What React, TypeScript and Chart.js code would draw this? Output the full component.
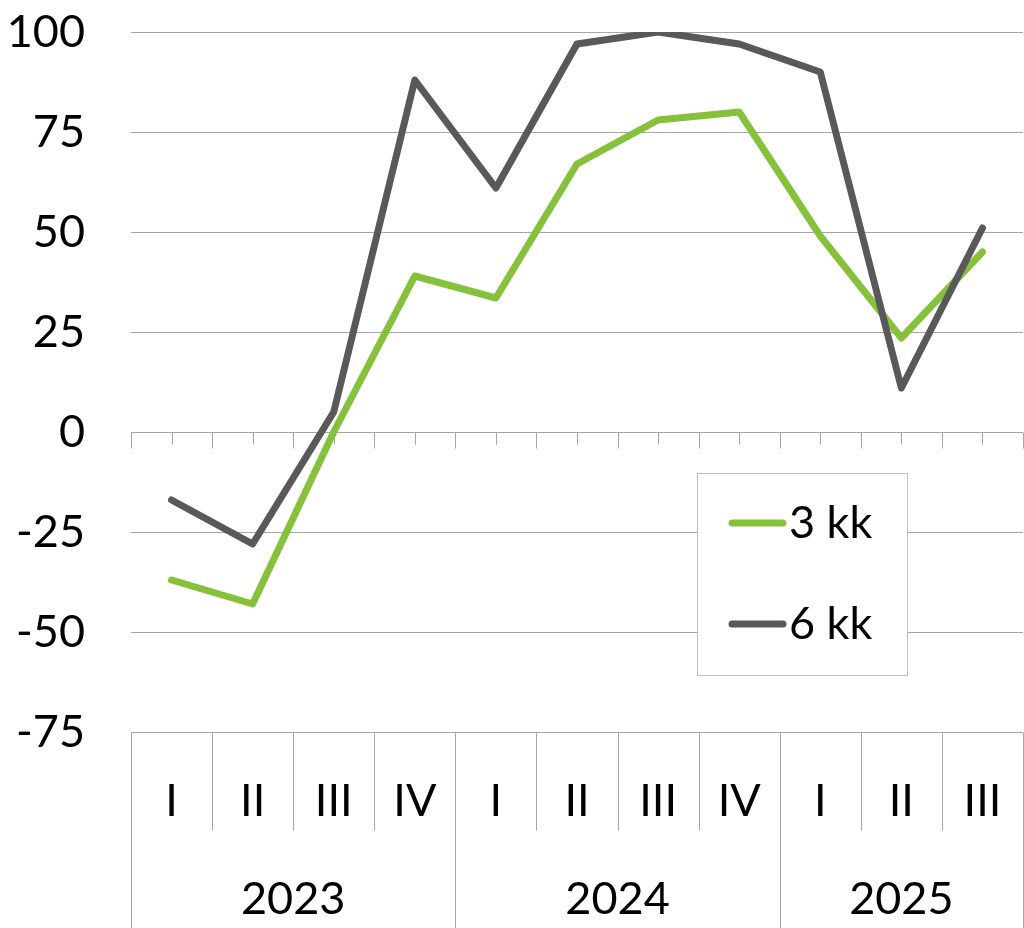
import React, { useEffect, useRef } from 'react';
import { Chart, registerables } from 'chart.js';

Chart.register(...registerables);

const quarterLabels = ['I', 'II', 'III', 'IV', 'I', 'II', 'III', 'IV', 'I', 'II', 'III'];
const yearLabels = ['2023', '2024', '2025'];
const quartersPerYear = [4, 4, 3];
const series3kk = [-37, -43, 0, 39, 33.5, 67, 78, 80, 49, 23.5, 45];
const series6kk = [-17, -28, 5, 88, 61, 97, 100, 97, 90, 11, 51];
const seriesNames = ['3 kk', '6 kk'];
const yMin = -75;
const yMax = 100;
const yStep = 25;

const GREEN = '#86c13b';
const DARK = '#595959';
const GRID = '#a6a6a6';
const FONT = 'Lato';
const FONT_SIZE = 45;

const tablePlugin = {
  id: 'tableAxis',
  beforeDatasetsDraw(chart: any) {
    const { ctx, chartArea } = chart;
    const y = chart.scales.y;
    const x = chart.scales.x;
    const n = quarterLabels.length;
    const w = (chartArea.right - chartArea.left) / n;
    const y0 = Math.round(y.getPixelForValue(0)) + 0.5;
    ctx.save();
    ctx.strokeStyle = GRID;
    ctx.lineWidth = 1;
    ctx.beginPath();
    for (let i = 0; i <= n; i++) {
      const bx = Math.round(chartArea.left + i * w) + 0.5;
      ctx.moveTo(bx, y0);
      ctx.lineTo(bx, y0 + 16);
    }
    for (let i = 0; i < n; i++) {
      const cx = Math.round(x.getPixelForValue(i)) + 0.5;
      ctx.moveTo(cx, y0);
      ctx.lineTo(cx, y0 + 12);
    }
    ctx.stroke();
    ctx.restore();
  },
  afterDraw(chart: any) {
    const { ctx, chartArea, height } = chart;
    const x = chart.scales.x;
    const n = quarterLabels.length;
    const w = (chartArea.right - chartArea.left) / n;
    const top = Math.round(chartArea.bottom) + 0.5;
    const yearStarts: number[] = [0];
    quartersPerYear.forEach((q, i) => yearStarts.push(yearStarts[i] + q));

    ctx.save();
    ctx.strokeStyle = GRID;
    ctx.lineWidth = 1;
    ctx.beginPath();
    ctx.moveTo(chartArea.left, top);
    ctx.lineTo(chartArea.right, top);
    for (let i = 0; i <= n; i++) {
      const bx = Math.round(chartArea.left + i * w) + 0.5;
      const full = yearStarts.indexOf(i) >= 0;
      ctx.moveTo(bx, top);
      ctx.lineTo(bx, full ? height : top + 98);
    }
    ctx.stroke();

    ctx.fillStyle = '#000';
    ctx.font = `${FONT_SIZE}px ${FONT}`;
    ctx.textAlign = 'center';
    ctx.textBaseline = 'alphabetic';
    for (let i = 0; i < n; i++) {
      ctx.fillText(quarterLabels[i], x.getPixelForValue(i), top + 83);
    }
    for (let k = 0; k < yearLabels.length; k++) {
      const a = chartArea.left + yearStarts[k] * w;
      const b = chartArea.left + yearStarts[k + 1] * w;
      ctx.fillText(yearLabels[k], (a + b) / 2, top + 181);
    }

    // legend
    const lx = 697.5, ly = 473.5, lw = 210, lh = 202;
    ctx.fillStyle = '#fff';
    ctx.fillRect(lx, ly, lw, lh);
    ctx.strokeStyle = '#bfbfbf';
    ctx.strokeRect(lx, ly, lw, lh);
    const rows = [523, 624];
    chart.data.datasets.forEach((ds: any, i: number) => {
      const ry = rows[i];
      ctx.strokeStyle = ds.borderColor;
      ctx.lineWidth = 7;
      ctx.lineCap = 'round';
      ctx.beginPath();
      ctx.moveTo(732, ry);
      ctx.lineTo(783, ry);
      ctx.stroke();
      ctx.fillStyle = '#000';
      ctx.textAlign = 'left';
      ctx.fillText(ds.label, 789, ry + 15);
    });
    ctx.restore();
  },
};

export default function App() {
  const ref = useRef<HTMLCanvasElement>(null);
  useEffect(() => {
    if (!ref.current) return;
    const chart = new Chart(ref.current, {
      type: 'line',
      data: {
        labels: quarterLabels,
        datasets: [
          {
            label: seriesNames[0],
            data: series3kk,
            borderColor: GREEN,
            backgroundColor: GREEN,
            borderWidth: 7,
            pointRadius: 0,
            borderCapStyle: 'round',
            borderJoinStyle: 'round',
            tension: 0,
            order: 1,
          },
          {
            label: seriesNames[1],
            data: series6kk,
            borderColor: DARK,
            backgroundColor: DARK,
            borderWidth: 7,
            pointRadius: 0,
            borderCapStyle: 'round',
            borderJoinStyle: 'round',
            tension: 0,
            order: 0,
          },
        ],
      },
      options: {
        responsive: false,
        animation: false,
        devicePixelRatio: 1,
        layout: { padding: { top: 32, right: 1, left: 0, bottom: 0 } },
        plugins: { legend: { display: false }, tooltip: { enabled: false } },
        scales: {
          x: {
            type: 'category',
            offset: true,
            grid: { display: false },
            border: { display: false },
            ticks: { display: false },
            afterFit: (s: any) => { s.height = 196; s.paddingLeft = 0; s.paddingRight = 0; },
          },
          y: {
            min: yMin,
            max: yMax,
            ticks: {
              stepSize: yStep,
              padding: 46,
              color: '#000',
              font: { family: FONT, size: FONT_SIZE },
            },
            grid: { color: GRID, lineWidth: 1, drawTicks: false },
            border: { display: false },
            afterFit: (s: any) => { s.width = 131; s.paddingTop = 0; s.paddingBottom = 0; },
          },
        },
      },
      plugins: [tablePlugin],
    } as any);
    return () => chart.destroy();
  }, []);
  return (
    <div style={{ position: 'absolute', left: 0, top: 0, width: 1024, height: 928, background: '#fff' }}>
      <canvas ref={ref} width={1024} height={928} style={{ display: 'block' }} />
    </div>
  );
}
